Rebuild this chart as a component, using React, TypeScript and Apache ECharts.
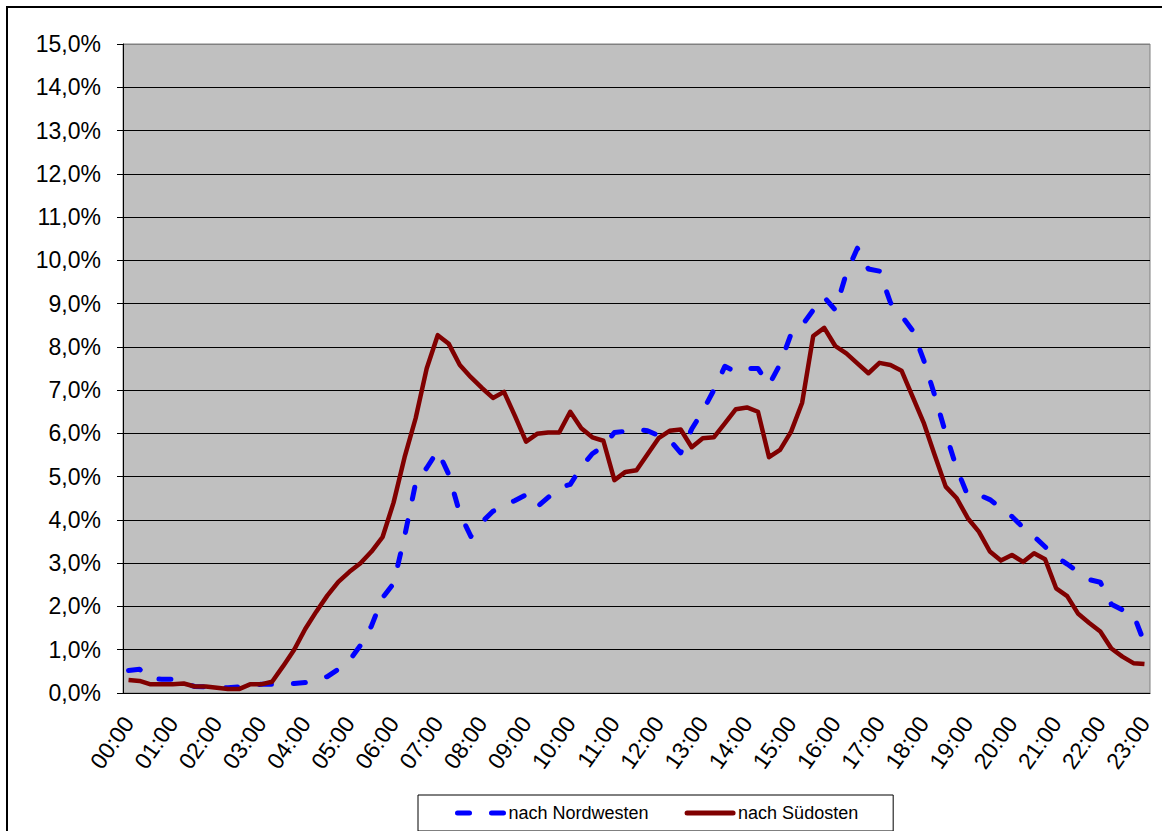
import React, { useEffect, useRef } from 'react';
import * as echarts from 'echarts';

// Categories: quarter hours from 00:00 to 23:00
const categories: string[] = [];
for (let h = 0; h < 24; h++) {
  for (let q = 0; q < 4; q++) {
    if (h === 23 && q > 0) break;
    categories.push(`${String(h).padStart(2, '0')}:${String(q * 15).padStart(2, '0')}`);
  }
}

// nach Nordwesten (percent)
const nordwesten: number[] = [
  0.52, 0.55, 0.33, 0.32, 0.32, 0.22, 0.15, 0.14, 0.12, 0.12,
  0.14, 0.18, 0.20, 0.20, 0.22, 0.22, 0.24, 0.30, 0.38, 0.55,
  0.75, 1.10, 1.55, 2.20, 2.53, 3.62, 4.85, 5.20, 5.60, 5.05,
  4.15, 3.62, 3.95, 4.20, 4.33, 4.45, 4.58, 4.30, 4.52, 4.75,
  4.82, 5.22, 5.53, 5.70, 6.02, 6.05, 6.10, 6.06, 5.95, 5.85,
  5.55, 6.10, 6.52, 7.00, 7.55, 7.42, 7.50, 7.50, 7.12, 7.60,
  8.30, 8.50, 8.85, 9.15, 8.85, 9.70, 10.28, 9.80, 9.75, 9.02,
  8.72, 8.38, 7.70, 6.88, 6.00, 5.19, 4.56, 4.58, 4.47, 4.28,
  4.08, 3.83, 3.62, 3.38, 3.15, 2.98, 2.80, 2.62, 2.56, 2.05,
  1.92, 1.82, 1.15,
];

// nach Südosten (percent)
const suedosten: number[] = [
  0.30, 0.28, 0.20, 0.20, 0.20, 0.22, 0.15, 0.15, 0.12, 0.09,
  0.09, 0.20, 0.20, 0.26, 0.62, 1.00, 1.48, 1.88, 2.25, 2.57,
  2.80, 3.00, 3.27, 3.60, 4.40, 5.45, 6.35, 7.50, 8.27, 8.07,
  7.58, 7.30, 7.05, 6.82, 6.96, 6.40, 5.81, 5.99, 6.02, 6.02,
  6.50, 6.12, 5.91, 5.83, 4.92, 5.11, 5.15, 5.52, 5.89, 6.06,
  6.09, 5.68, 5.89, 5.91, 6.23, 6.56, 6.60, 6.50, 5.45, 5.62,
  6.04, 6.71, 8.25, 8.44, 8.02, 7.85, 7.62, 7.39, 7.63, 7.58,
  7.45, 6.85, 6.25, 5.50, 4.77, 4.50, 4.04, 3.73, 3.27, 3.06,
  3.19, 3.03, 3.23, 3.09, 2.42, 2.24, 1.83, 1.62, 1.42, 1.03,
  0.84, 0.69, 0.67,
];

const seriesNames = ['nach Nordwesten', 'nach Südosten'];
const yMin = 0;
const yMax = 15;
const yStep = 1;

export default function App() {
  const ref = useRef<HTMLDivElement>(null);

  useEffect(() => {
    if (!ref.current) return;
    const chart = echarts.init(ref.current, undefined, { renderer: 'svg' });
    const font = 'Liberation Sans, Arial, sans-serif';
    const splitColors: string[] = [];
    for (let v = yMin; v <= yMax; v += yStep) splitColors.push(v === yMax ? '#808080' : '#000000');

    chart.setOption({
      animation: false,
      backgroundColor: '#ffffff',
      textStyle: { fontFamily: font },
      grid: {
        left: 123,
        top: 44,
        right: 12,
        bottom: 138,
        show: true,
        backgroundColor: '#c0c0c0',
        borderColor: '#808080',
        borderWidth: 1,
      },
      xAxis: {
        type: 'category',
        data: categories,
        boundaryGap: true,
        axisLine: { lineStyle: { color: '#000', width: 1 } },
        axisTick: { interval: 3, length: 7, lineStyle: { color: '#000' } },
        axisLabel: {
          interval: 3,
          rotate: 55,
          fontSize: 23,
          color: '#000',
          margin: 26,
          fontFamily: font,
        },
        splitLine: { show: false },
      },
      yAxis: {
        type: 'value',
        min: yMin,
        max: yMax,
        interval: yStep,
        axisLine: { show: true, lineStyle: { color: '#000' } },
        axisTick: { show: true, length: 6, lineStyle: { color: '#000' } },
        axisLabel: {
          fontSize: 23,
          color: '#000',
          margin: 22,
          fontFamily: font,
          formatter: (v: number) => v.toFixed(1).replace('.', ',') + '%',
        },
        splitLine: { show: true, lineStyle: { color: splitColors, width: 1 } },
      },
      legend: {
        data: seriesNames,
        left: 418,
        top: 795,
        orient: 'horizontal',
        padding: [9, 35, 9, 37],
        itemGap: 36,
        itemWidth: 46,
        itemHeight: 20,
        borderColor: '#000',
        borderWidth: 1,
        backgroundColor: '#fff',
        itemStyle: { opacity: 0 },
        lineStyle: { width: 5, cap: 'round' },
        textStyle: { fontSize: 18, color: '#000', fontFamily: font },
      },
      graphic: [
        {
          type: 'rect',
          silent: true,
          z: 100,
          shape: { x: 7, y: 7, width: 1200, height: 900 },
          style: { fill: 'none', stroke: '#000', lineWidth: 2 },
        },
      ],
      series: [
        {
          name: seriesNames[0],
          type: 'line',
          data: nordwesten,
          symbol: 'none',
          showSymbol: false,
          lineStyle: { color: '#0000ff', width: 5, type: [12, 22], cap: 'round', join: 'round' },
          itemStyle: { color: '#0000ff' },
        },
        {
          name: seriesNames[1],
          type: 'line',
          data: suedosten,
          symbol: 'none',
          showSymbol: false,
          lineStyle: { color: '#800000', width: 4.5, join: 'round' },
          itemStyle: { color: '#800000' },
        },
      ],
    });
    return () => chart.dispose();
  }, []);

  return (
    <div
      ref={ref}
      style={{ position: 'fixed', left: 0, top: 0, width: 1162, height: 831 }}
    />
  );
}
